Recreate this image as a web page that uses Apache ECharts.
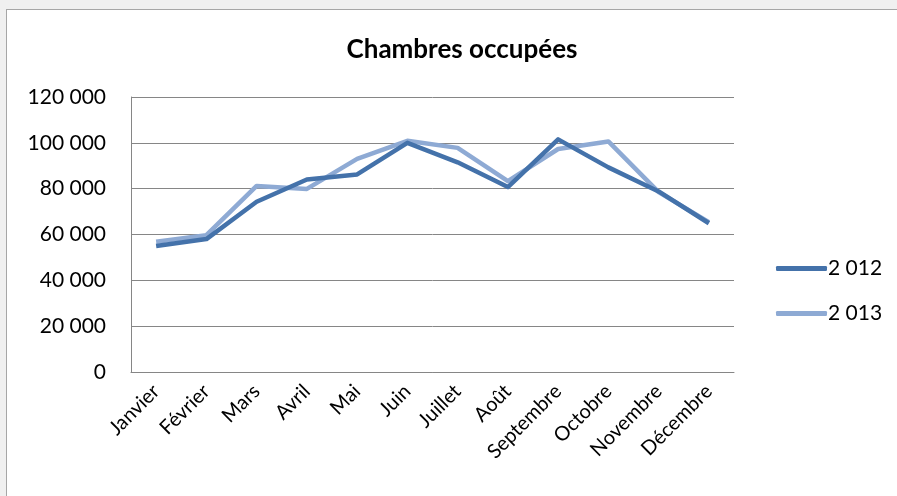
<!DOCTYPE html>
<html>
<head>
    <meta charset="utf-8">
    <title>Chambres occupées</title>
    <script src="https://cdn.jsdelivr.net/npm/echarts@6/dist/echarts.min.js"></script>
    <style type="text/css">
        html, body {
            margin: 0;
            height: 100%;
            background: #f0f0f0;
            overflow: hidden;
        }
        #panel {
            position: absolute;
            left: 6px; top: 9px; width: 900px; height: 500px;
            background: #fff;
            border: 1px solid #a6a6a6;
        }
        #main {
            position: absolute;
            left: 0; top: 0; width: 897px; height: 496px;
        }
    </style>
</head>
<body>
<div id="panel"></div>
<div id="main"></div>
<script type="text/javascript">
    var months = ['Janvier', 'Février', 'Mars', 'Avril', 'Mai', 'Juin', 'Juillet', 'Août', 'Septembre', 'Octobre', 'Novembre', 'Décembre'];
    var data2012 = [55000, 58000, 74300, 84000, 86200, 100000, 91500, 80700, 101500, 89300, 78800, 64900];
    var data2013 = [56800, 59700, 81200, 79900, 93000, 100900, 97800, 83300, 97300, 100600, 78500, 65400];
    var yTicks = [0, 20000, 40000, 60000, 80000, 100000, 120000];

    var myChart = echarts.init(document.getElementById('main'), null, {renderer: 'canvas'});

    var fontName = 'Lato';

    var option = {
        backgroundColor: 'transparent',
        title: {
            text: 'Chambres occupées',
            left: 457,
            top: 32,
            textAlign: 'center',
            textStyle: { fontFamily: fontName, fontSize: 26, fontWeight: 'bold', color: '#000' }
        },
        grid: { left: 131, top: 97, width: 603, height: 275 },
        legend: {
            orient: 'vertical',
            left: 771,
            top: 253,
            itemWidth: 51,
            itemHeight: 5,
            itemGap: 24,
            icon: 'roundRect',
            textStyle: { fontFamily: fontName, fontSize: 21, color: '#000', padding: [0, 0, 0, -4] },
            data: ['2 012', '2 013']
        },
        xAxis: {
            type: 'category',
            data: months,
            boundaryGap: true,
            axisLine: { lineStyle: { color: '#868686', width: 1 } },
            axisTick: { show: false },
            axisLabel: { rotate: 45, fontFamily: fontName, fontSize: 20, color: '#000', margin: 16, interval: 0 }
        },
        yAxis: {
            type: 'value',
            min: yTicks[0],
            max: yTicks[yTicks.length - 1],
            interval: 20000,
            axisLine: { show: true, lineStyle: { color: '#868686', width: 1 } },
            axisTick: { show: false },
            splitLine: { lineStyle: { color: '#868686', width: 1 } },
            axisLabel: {
                fontFamily: fontName, fontSize: 21, color: '#000', margin: 25,
                formatter: function (v) {
                    return String(v).replace(/\B(?=(\d{3})+(?!\d))/g, ' ');
                }
            }
        },
        series: [{
            name: '2 012',
            type: 'line',
            data: data2012,
            symbol: 'none',
            color: '#4472aa',
            lineStyle: { width: 4.5, color: '#4472aa', join: 'round' },
            z: 3
        }, {
            name: '2 013',
            type: 'line',
            data: data2013,
            symbol: 'none',
            color: '#8eaad4',
            lineStyle: { width: 4.5, color: '#8eaad4', join: 'round' },
            z: 2
        }]
    };

    myChart.setOption(option);
</script>
</body>
</html>
